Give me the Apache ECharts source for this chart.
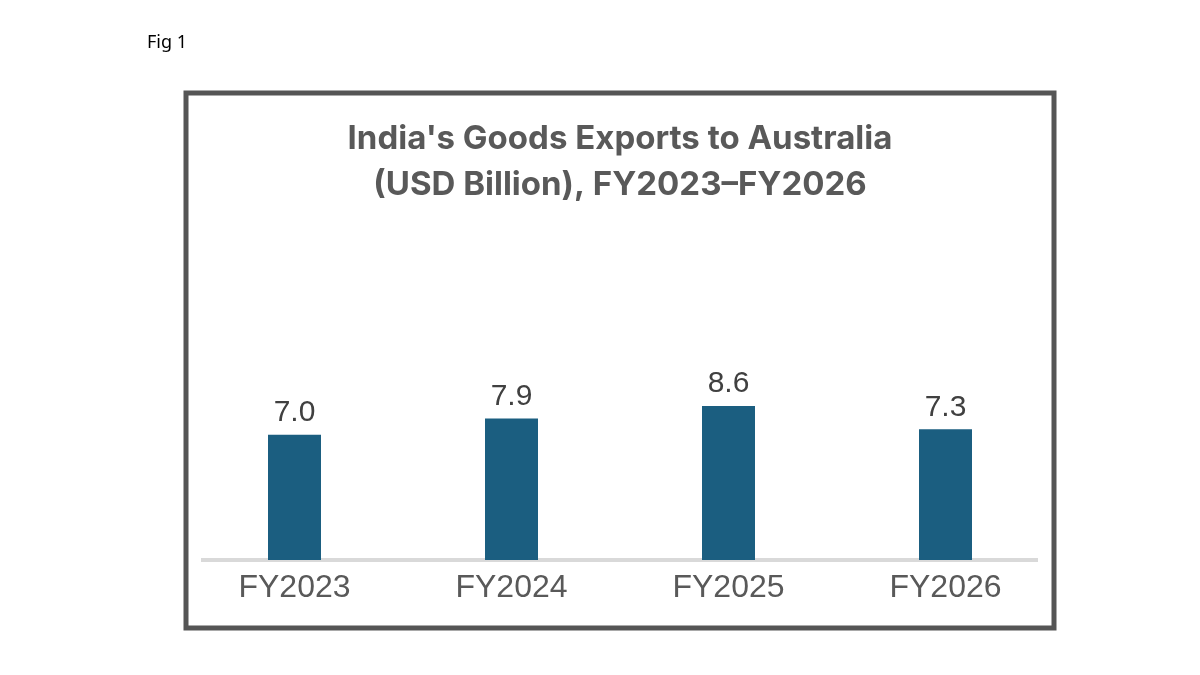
<!DOCTYPE html>
<html>
<head>
<meta charset="utf-8">
<script src="https://cdn.jsdelivr.net/npm/echarts@6/dist/echarts.min.js"></script>
<style>
  html, body { margin: 0; padding: 0; background: #fff; }
  #chart { width: 1200px; height: 675px; }
</style>
</head>
<body>
<div id="chart"></div>
<script>
// data
const categories = ['FY2023', 'FY2024', 'FY2025', 'FY2026'];
const exportsUsdBn = [7.0, 7.9, 8.6, 7.3];
const titleLines = ["India's Goods Exports to Australia", '(USD Billion), FY2023\u2013FY2026'];

const chart = echarts.init(document.getElementById('chart'));

chart.setOption({
    animation: false,
    backgroundColor: '#fff',
    title: {
        text: titleLines.join('\n'),
        left: 620,
        top: 116,
        textAlign: 'center',
        padding: 0,
        textStyle: {
            fontFamily: 'Inter',
            fontWeight: 'bold',
            fontSize: 33,
            lineHeight: 46,
            color: '#595959'
        }
    },
    graphic: [
        // "Fig 1" caption
        {
            type: 'text',
            left: 147,
            top: 34,
            style: { text: 'Fig 1', font: '18px "Noto Sans"', fill: '#000' }
        },
        // chart frame
        {
            type: 'rect',
            shape: { x: 186, y: 93, width: 868, height: 535 },
            style: { fill: 'none', stroke: '#555555', lineWidth: 5 },
            z: -1
        },
        // baseline
        {
            type: 'line',
            shape: { x1: 201, y1: 560, x2: 1038, y2: 560 },
            style: { stroke: '#d9d9d9', lineWidth: 4 },
            z: 1
        }
    ],
    grid: { left: 186, right: 146, top: 202, bottom: 115 },
    xAxis: {
        type: 'category',
        data: categories,
        axisLine: { show: false },
        axisTick: { show: false },
        axisLabel: {
            margin: 12,
            fontFamily: 'Liberation Sans',
            fontSize: 32,
            color: '#595959'
        }
    },
    yAxis: {
        type: 'value',
        min: 0,
        max: 20,
        show: false,
        splitLine: { show: false }
    },
    series: [{
        type: 'bar',
        data: exportsUsdBn,
        barWidth: 53,
        itemStyle: { color: '#1b5e80' },
        z: 2,
        label: {
            show: true,
            position: 'top',
            distance: 7,
            formatter: p => p.value.toFixed(1),
            fontFamily: 'Liberation Sans',
            fontSize: 30,
            color: '#404040'
        }
    }]
});
</script>
</body>
</html>
